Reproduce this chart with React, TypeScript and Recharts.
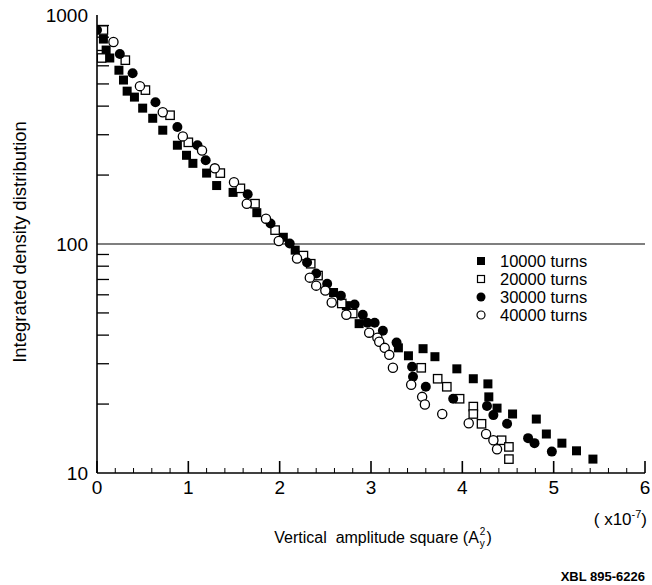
import { ScatterChart, Scatter, XAxis, YAxis, ReferenceLine } from 'recharts';

// x in units of 1e-7, y = integrated density
const x10000 = [0.07, 0.1, 0.14, 0.24, 0.29, 0.33, 0.41, 0.5, 0.61, 0.72, 0.88, 0.98, 1.05, 1.2, 1.31, 1.49, 1.75, 2.04, 2.17, 2.59, 2.73, 2.87, 3.3, 3.41, 3.57, 3.7, 3.94, 4.12, 4.28, 4.29, 4.38, 4.55, 4.81, 4.92, 5.09, 5.25, 5.43];
const y10000 = [785, 703, 649, 574, 520, 465, 438, 392, 354, 314, 270, 244, 225, 204, 180, 168, 137, 107, 94, 61.4, 53.8, 44.9, 35.2, 32.5, 34.9, 32.2, 28.5, 25.8, 24.5, 21.5, 19.2, 18.1, 17.2, 14.8, 13.5, 12.5, 11.5];

const x20000 = [0.07, 0.05, 0.31, 0.53, 0.8, 1.0, 1.35, 1.57, 1.73, 1.95, 2.26, 2.34, 2.42, 2.68, 2.8, 3.55, 3.73, 3.83, 3.97, 4.12, 4.12, 4.21, 4.43, 4.51, 4.51];
const y20000 = [860, 649, 635, 470, 365, 278, 204, 175, 150, 115, 89, 82, 72.8, 55, 49.7, 28.8, 25.8, 23.8, 21.1, 19.5, 18.1, 16.4, 13.9, 13.0, 11.5];

const x30000 = [0, 0.25, 0.39, 0.64, 0.88, 1.1, 1.19, 1.65, 1.9, 2.11, 2.3, 2.4, 2.52, 2.67, 2.82, 2.91, 2.96, 3.04, 3.13, 3.28, 3.45, 3.46, 3.6, 3.9, 4.27, 4.34, 4.49, 4.72, 4.79, 4.98];
const y30000 = [860, 675, 557, 416, 324, 270, 232, 165, 123, 100.5, 83, 74.3, 67.1, 59.5, 54.4, 49.1, 45.3, 45.3, 41.8, 37.1, 29.1, 26.3, 23.8, 21.1, 19.6, 17.9, 16.4, 14.2, 13.5, 12.4];

const x40000 = [0.18, 0.47, 0.72, 0.94, 1.15, 1.29, 1.5, 1.64, 1.85, 1.99, 2.19, 2.33, 2.4, 2.5, 2.57, 2.73, 2.98, 3.07, 3.09, 3.15, 3.2, 3.24, 3.44, 3.56, 3.59, 3.78, 4.07, 4.26, 4.34, 4.38];
const y40000 = [762, 489, 376, 295, 256, 214, 186, 150, 129, 103, 86.4, 71.3, 65.8, 62.6, 55.5, 49.1, 41.0, 39.0, 37.4, 35.2, 32.8, 28.8, 24.3, 21.5, 19.9, 18.1, 16.5, 14.8, 13.9, 12.7];

const xTicks = [0, 0.2, 0.4, 0.6, 0.8, 1, 1.2, 1.4, 1.6, 1.8, 2, 2.2, 2.4, 2.6, 2.8, 3, 3.2, 3.4, 3.6, 3.8, 4, 4.2, 4.4, 4.6, 4.8, 5, 5.2, 5.4, 5.6, 5.8, 6];
const yTicks = [10, 20, 30, 40, 50, 60, 70, 80, 90, 100, 200, 300, 400, 500, 600, 700, 800, 900, 1000];
const yLabels = [10, 100, 1000];
const seriesNames = ['10000 turns', '20000 turns', '30000 turns', '40000 turns'];

const zip = (xs: number[], ys: number[]) => xs.map((x, i) => ({ x, y: ys[i] }));

const FONT = '"Liberation Sans", Arial, Helvetica, sans-serif';

const FilledSquare = (p: any) => <rect x={p.cx - 4.5} y={p.cy - 4.5} width={9} height={9} fill="#000" />;
const OpenSquare = (p: any) => (
  <rect x={p.cx - 4.2} y={p.cy - 4.2} width={8.4} height={8.4} fill="#fff" stroke="#000" strokeWidth={1.3} />
);
const FilledCircle = (p: any) => <circle cx={p.cx} cy={p.cy} r={5} fill="#000" />;
const OpenCircle = (p: any) => <circle cx={p.cx} cy={p.cy} r={4.6} fill="#fff" stroke="#000" strokeWidth={1.3} />;

const isMajorX = (v: number) => Math.abs(v - Math.round(v)) < 1e-6;

const LeftTick = ({ x, y, payload }: any) => {
  const v = payload.value;
  if (yLabels.includes(v)) {
    return (
      <text x={x - 9} y={y} dy="0.36em" textAnchor="end" fontSize={19} fontFamily={FONT} fill="#000">
        {v}
      </text>
    );
  }
  return <line x1={x} x2={x + 12} y1={y} y2={y} stroke="#000" strokeWidth={1.3} />;
};

const RightTick = ({ x, y, payload }: any) => {
  if (yLabels.includes(payload.value)) return <g />;
  return <line x1={x} x2={x - 12} y1={y} y2={y} stroke="#000" strokeWidth={1.3} />;
};

const BottomTick = ({ x, y, payload }: any) => {
  const v = payload.value;
  const major = isMajorX(v);
  return (
    <g>
      <line x1={x} x2={x} y1={y} y2={y - (major ? 12 : 5)} stroke="#000" strokeWidth={major ? 1.6 : 1} />
      {major && (
        <text x={x} y={y + 21} textAnchor="middle" fontSize={19} fontFamily={FONT} fill="#000">
          {Math.round(v)}
        </text>
      )}
    </g>
  );
};

const TopTick = ({ x, y, payload }: any) => {
  const major = isMajorX(payload.value);
  return <line x1={x} x2={x} y1={y} y2={y + (major ? 12 : 5)} stroke="#000" strokeWidth={major ? 1.6 : 1} />;
};

const legendMarkers = [
  <rect x={2} y={2} width={8} height={8} fill="#000" />,
  <rect x={2.5} y={2.5} width={7} height={7} fill="#fff" stroke="#000" strokeWidth={1.2} />,
  <circle cx={6} cy={6} r={4.5} fill="#000" />,
  <circle cx={6} cy={6} r={4} fill="#fff" stroke="#000" strokeWidth={1.2} />,
];

export default function App() {
  return (
    <div style={{ position: 'relative', width: 652, height: 585, background: '#fff', fontFamily: FONT, color: '#000' }}>
      <style>{'body{margin:0}'}</style>
      <ScatterChart width={652} height={585} margin={{ top: 15, right: 7, bottom: 0, left: 0 }}>
        <XAxis
          xAxisId="bottom"
          dataKey="x"
          type="number"
          domain={[0, 6]}
          ticks={xTicks}
          interval={0}
          height={112}
          tickSize={0}
          tickMargin={0}
          tickLine={false}
          tick={BottomTick}
          axisLine={{ stroke: '#000', strokeWidth: 1.6 }}
          allowDataOverflow
        />
        <XAxis
          xAxisId="top"
          orientation="top"
          dataKey="x"
          type="number"
          domain={[0, 6]}
          ticks={xTicks}
          interval={0}
          height={0}
          tickSize={0}
          tickMargin={0}
          tickLine={false}
          tick={TopTick}
          axisLine={{ stroke: '#000', strokeWidth: 1.6 }}
          allowDataOverflow
        />
        <YAxis
          yAxisId="left"
          dataKey="y"
          type="number"
          scale="log"
          domain={[10, 1000]}
          ticks={yTicks}
          interval={0}
          width={97}
          tickSize={0}
          tickMargin={0}
          tickLine={false}
          tick={LeftTick}
          axisLine={{ stroke: '#000', strokeWidth: 1.6 }}
          allowDataOverflow
        />
        <YAxis
          yAxisId="right"
          orientation="right"
          dataKey="y"
          type="number"
          scale="log"
          domain={[10, 1000]}
          ticks={yTicks}
          interval={0}
          width={0}
          tickSize={0}
          tickMargin={0}
          tickLine={false}
          tick={RightTick}
          axisLine={{ stroke: '#000', strokeWidth: 1.6 }}
          allowDataOverflow
        />
        <ReferenceLine xAxisId="bottom" yAxisId="left" y={100} stroke="#000" strokeWidth={1.2} />
        <Scatter xAxisId="bottom" yAxisId="left" name={seriesNames[0]} data={zip(x10000, y10000)} shape={FilledSquare} isAnimationActive={false} />
        <Scatter xAxisId="bottom" yAxisId="left" name={seriesNames[1]} data={zip(x20000, y20000)} shape={OpenSquare} isAnimationActive={false} />
        <Scatter xAxisId="bottom" yAxisId="left" name={seriesNames[2]} data={zip(x30000, y30000)} shape={FilledCircle} isAnimationActive={false} />
        <Scatter xAxisId="top" yAxisId="right" name={seriesNames[3]} data={zip(x40000, y40000)} shape={OpenCircle} isAnimationActive={false} />
      </ScatterChart>

      {/* legend */}
      <div style={{ position: 'absolute', left: 475, top: 252 }}>
        {seriesNames.map((n, i) => (
          <div key={n} style={{ display: 'flex', alignItems: 'center', height: 18 }}>
            <svg width={12} height={12} style={{ marginRight: 13 }}>
              {legendMarkers[i]}
            </svg>
            <span style={{ fontSize: 16.5, lineHeight: '18px', whiteSpace: 'nowrap' }}>{n}</span>
          </div>
        ))}
      </div>

      {/* y axis title */}
      <div
        style={{
          position: 'absolute',
          left: 20,
          top: 242,
          transform: 'translate(-50%, -50%) rotate(-90deg)',
          fontSize: 18.5,
          whiteSpace: 'nowrap',
        }}
      >
        Integrated density distribution
      </div>

      {/* exponent note */}
      <div style={{ position: 'absolute', right: 5, top: 508, fontSize: 17, whiteSpace: 'nowrap' }}>
        ( x10<sup style={{ fontSize: 11 }}>-7</sup>)
      </div>

      {/* x axis title */}
      <div
        style={{
          position: 'absolute',
          left: 383,
          top: 538,
          transform: 'translate(-50%, -50%)',
          fontSize: 16,
          whiteSpace: 'pre',
          display: 'flex',
          alignItems: 'center',
        }}
      >
        <span>Vertical  amplitude square (A</span>
        <span style={{ display: 'inline-flex', flexDirection: 'column', fontSize: 10, lineHeight: '12px', margin: '0 1px' }}>
          <span>2</span>
          <span>y</span>
        </span>
        <span>)</span>
      </div>

      <div style={{ position: 'absolute', right: 7, top: 569, fontSize: 13, fontWeight: 'bold', whiteSpace: 'nowrap' }}>
        XBL 895-6226
      </div>
    </div>
  );
}
